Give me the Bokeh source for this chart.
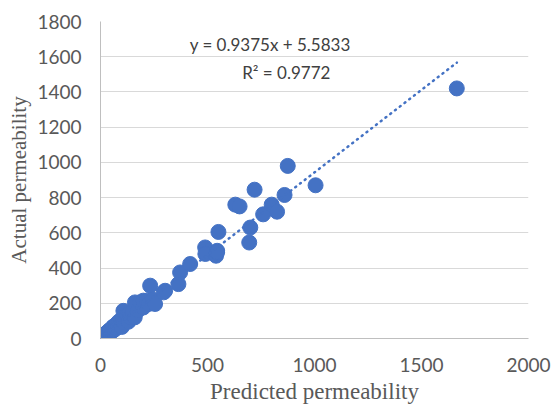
from bokeh.plotting import figure
from bokeh.models import Range1d, Label, FixedTicker, ColumnDataSource
from bokeh.embed import file_html
from bokeh.resources import INLINE
import numpy as np

# Data
predicted = [0, 3, 5, 8, 10, 12, 15, 18, 20, 22, 25, 28, 30, 35, 38, 40, 45, 48, 50, 55,
             58, 60, 65, 70, 72, 78, 80, 85, 90, 95, 100, 100, 105, 110, 107, 125, 130, 135, 140, 150,
             160, 161, 175, 185, 200, 200, 215, 225, 232, 245, 255, 295, 302, 364, 372, 419, 489, 490, 545, 540,
             551, 545, 630, 650, 695, 700, 720, 760, 800, 825, 860, 875, 1005, 1665]
actual = [0, 5, 2, 12, 6, 3, 18, 10, 25, 14, 8, 30, 20, 38, 25, 45, 30, 52, 40, 60,
          45, 68, 50, 75, 58, 85, 65, 95, 72, 105, 85, 66, 115, 92, 157, 130, 95, 140, 120, 150,
          120, 205, 160, 205, 176, 215, 215, 196, 300, 220, 196, 262, 271, 309, 375, 423, 517, 480, 498, 470,
          605, 490, 760, 750, 545, 630, 845, 705, 760, 720, 815, 980, 870, 1420]

slope = 0.9375
intercept = 5.5833
equation_text = "y = 0.9375x + 5.5833"
r2_text = "R\u00b2 = 0.9772"
x_ticks = [0, 500, 1000, 1500, 2000]
y_ticks = [0, 200, 400, 600, 800, 1000, 1200, 1400, 1600, 1800]

BLUE = "#4472C4"
GRAY_TXT = "#595959"

p = figure(width=553, height=406, x_range=Range1d(0, 2000), y_range=Range1d(0, 1800),
           output_backend="svg", toolbar_location=None,
           min_border_left=100, min_border_right=25, min_border_top=21, min_border_bottom=68)
p.outline_line_color = None
p.background_fill_color = "white"
p.border_fill_color = "white"

p.xgrid.grid_line_color = None
p.ygrid.grid_line_color = "#d9d9d9"
p.ygrid.grid_line_width = 1
p.ygrid.ticker = FixedTicker(ticks=y_ticks)

p.xaxis.ticker = FixedTicker(ticks=x_ticks)
p.yaxis.ticker = FixedTicker(ticks=y_ticks)
for ax in (p.xaxis, p.yaxis):
    ax.axis_line_color = "#bfbfbf"
    ax.axis_line_width = 1
    ax.major_tick_line_color = None
    ax.minor_tick_line_color = None
    ax.major_tick_out = 0
    ax.major_tick_in = 0
    ax.minor_tick_out = 0
    ax.minor_tick_in = 0
    ax.major_label_text_font = "Lato"
    ax.major_label_text_font_size = "19px"
    ax.major_label_text_color = GRAY_TXT
    ax.axis_label_text_font = "Liberation Serif"
    ax.axis_label_text_font_style = "normal"
    ax.axis_label_text_color = GRAY_TXT

p.xaxis.axis_label = "Predicted permeability"
p.xaxis.axis_label_text_font_size = "23px"
p.xaxis.major_label_standoff = 19
p.xaxis.axis_label_standoff = 4
p.yaxis.axis_label = "Actual permeability"
p.yaxis.axis_label_text_font_size = "21px"
p.yaxis.major_label_standoff = 19
p.yaxis.axis_label_standoff = 3

src = ColumnDataSource(dict(x=predicted, y=actual))
p.scatter("x", "y", source=src, size=15, fill_color=BLUE, line_color=BLUE)

x_line = np.array([min(predicted), max(predicted)], dtype=float)
y_line = slope * x_line + intercept
p.line(x_line, y_line, line_color=BLUE, line_width=2.5, line_dash="1 5", line_cap="round")

p.add_layout(Label(x=793, y=1669, text=equation_text, text_align="center", text_baseline="middle",
                   text_font="Lato", text_font_size="17px", text_color="#404040"))
p.add_layout(Label(x=868, y=1510, text=r2_text, text_align="center", text_baseline="middle",
                   text_font="Lato", text_font_size="17px", text_color="#404040"))

open("out.html", "w").write(file_html(p, INLINE))
